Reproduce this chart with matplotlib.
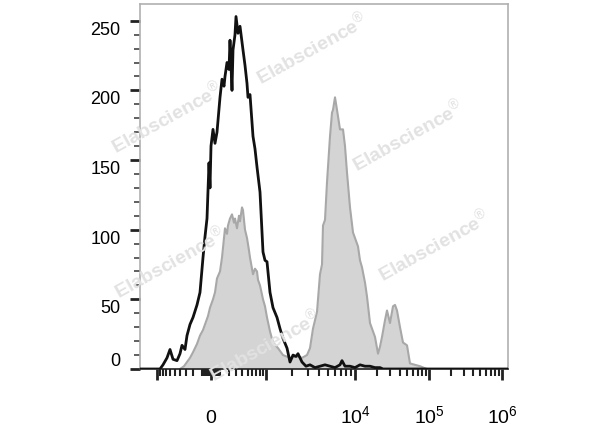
import numpy as np
import matplotlib
matplotlib.use("Agg")
import matplotlib.pyplot as plt
from matplotlib.ticker import FixedLocator, FixedFormatter

plt.rcParams['font.family'] = ['Liberation Sans', 'DejaVu Sans']
plt.rcParams['mathtext.fontset'] = 'custom'
plt.rcParams['mathtext.rm'] = 'Liberation Sans'
plt.rcParams['mathtext.it'] = 'Liberation Sans'

# histogram data, x in display channels (0 = zero fluorescence), y = count
black_x = [-71, -51, -48, -44, -41, -38, -34, -31, -29, -26, -24, -21, -18, -14, -11, -8, -6, -4, -2, -1,
           0, 2, 4, 6, 9, 11, 13, 14, 16, 18, 19, 21, 22, 24, 25, 27, 29, 32, 34, 36, 37, 39, 42, 44, 46,
           49, 52, 54, 56, 59, 62, 66, 69, 72, 76, 79, 82, 85, 87, 91, 95, 99, 104, 109, 114, 119, 124,
           129, 131, 134, 139, 144, 149, 154, 159, 164, 169, 172, 297]
black_y = [0, 0, 3, 8, 14, 7, 6, 11, 17, 14, 24, 32, 37, 46, 55, 80, 95, 108, 148, 130,
           160, 172, 162, 170, 195, 208, 203, 210, 220, 215, 236, 200, 229, 240, 253, 241, 246, 229, 218, 205, 195, 197, 167, 158, 145,
           127, 84, 78, 77, 55, 44, 37, 29, 22, 15, 5, 10, 9, 11, 5, 2, 3, 1, 2, 3, 2, 1,
           3, 6, 2, 2, 1, 3, 2, 2, 1, 1, 0, 0]

gray_x = [-31, -27, -24, -21, -18, -14, -11, -8, -6, -3, -1, 2, 4, 6, 9, 11, 12, 14, 16, 17, 19, 21, 23, 24,
          26, 28, 29, 31, 32, 34, 36, 38, 39, 41, 42, 44, 46, 47, 49, 52, 54, 56, 59, 62, 67, 72, 79, 86,
          91, 96, 99, 102, 106, 109, 111, 112, 114, 116, 119, 121, 122, 124, 126, 129, 132, 134, 136, 139,
          142, 145, 147, 149, 151, 154, 156, 159, 162, 164, 167, 169, 171, 174, 176, 179, 182, 184, 186,
          189, 192, 196, 199, 204, 209, 216]
gray_y = [0, 2, 5, 8, 12, 18, 24, 28, 32, 38, 44, 50, 55, 65, 70, 80, 87, 101, 97, 103, 108, 111, 105, 108,
          101, 110, 106, 116, 114, 100, 94, 85, 80, 72, 68, 72, 70, 64, 60, 50, 45, 37, 27, 19, 15, 10, 8, 9,
          8, 10, 15, 29, 41, 68, 75, 103, 107, 134, 167, 184, 186, 195, 186, 172, 172, 160, 141, 116,
          98, 92, 88, 78, 73, 62, 52, 33, 27, 23, 11, 16, 23, 35, 42, 33, 45, 46, 42,
          30, 19, 17, 4, 3, 2, 0]

major_vals = [-1e3, 0, 1e3, 1e4, 1e5, 1e6]
major_labels = ['', '0', '', '$10^4$', '$10^5$', '$10^6$']
minor_vals = ([s * k for s in (-1, 1) for k in range(10, 100, 10)] +
              [s * k for s in (-1, 1) for k in range(100, 1000, 100)] +
              [k * 10 ** e for e in (3, 4, 5) for k in range(2, 10)])

# biexponential-like display mapping (fluorescence -> channel)
_anchor_v = np.array([-1e6, -1e5, -1e4, -1e3, 0, 1e3, 1e4, 1e5, 1e6])
_anchor_p = np.array([-291, -218, -144, -54, 0, 55, 144, 218, 291])


def biex(v):
    s = np.arcsinh(np.asarray(v, dtype=float) / 300.0)
    return np.interp(s, np.arcsinh(_anchor_v / 300.0), _anchor_p)


fig = plt.figure(figsize=(6, 4.27), dpi=100)
ax = fig.add_axes([140 / 600, 1 - 370 / 427, 368 / 600, 365 / 427])

ax.fill_between(gray_x, gray_y, 0, color='#d4d4d4', lw=0, zorder=1)
ax.plot(gray_x, gray_y, color='#a8a8a8', lw=1.5, zorder=2)
ax.plot(black_x, black_y, color='#111111', lw=2.0, zorder=4)

ax.set_xlim(-71, 297)
ax.set_ylim(0, 262)

ax.xaxis.set_major_locator(FixedLocator(biex(major_vals)))
ax.xaxis.set_major_formatter(FixedFormatter(major_labels))
ax.xaxis.set_minor_locator(FixedLocator(biex(minor_vals)))
ax.set_yticks([0, 50, 100, 150, 200, 250])
ax.set_yticks(range(10, 260, 10), minor=True)

ax.tick_params(axis='x', which='major', length=8, width=2, color='#222222', labelsize=14, pad=30)
ax.tick_params(axis='x', which='minor', length=5, width=1.5, color='#222222')
ax.tick_params(axis='y', which='major', length=7, width=2, color='#222222', labelsize=13, pad=7)
ax.tick_params(axis='y', which='minor', length=4, width=1.2, color='#444444')
for lab in ax.get_xticklabels():
    lab.set_verticalalignment('baseline')
for lab in ax.get_yticklabels():
    lab.set_verticalalignment('bottom' if lab.get_text() == '0' else 'top')

for side in ('top', 'right', 'left'):
    ax.spines[side].set_color('#b0b0b0')
    ax.spines[side].set_linewidth(1.2)
ax.spines['bottom'].set_color('#222222')
ax.spines['bottom'].set_linewidth(1.2)

# watermarks
marks = [(312, 48), (167, 117), (408, 135), (434, 245), (170, 262), (265, 345)]
for px, py in marks:
    fig.text(px / 600, 1 - py / 427, r'Elabscience$^{\circledR}$', rotation=29,
             ha='center', va='center', fontsize=14, fontweight='bold',
             color='#e2e2e2', zorder=3)

fig.savefig('out.png', dpi=100)
